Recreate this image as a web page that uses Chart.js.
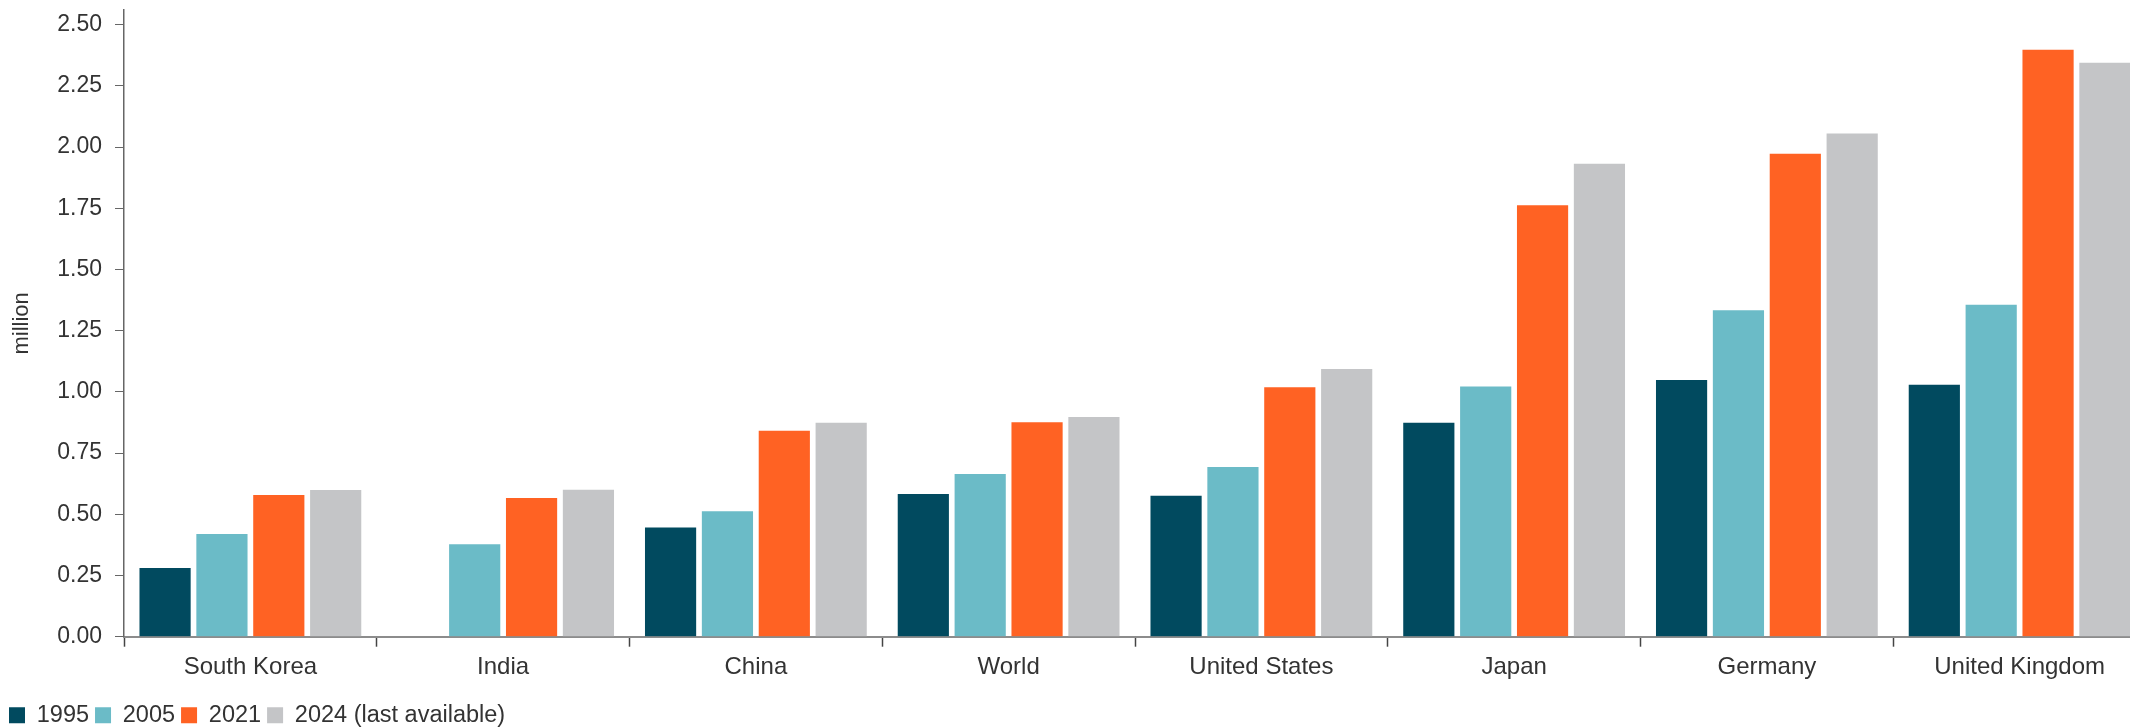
<!DOCTYPE html>
<html>
<head>
<meta charset="utf-8">
<script src="https://cdn.jsdelivr.net/npm/chart.js@4"></script>
<style>
  html, body { margin: 0; padding: 0; overflow: hidden; background: #fff; }
  #wrap { position: relative; width: 2146px; height: 727px; }
</style>
</head>
<body>
<div id="wrap"><canvas id="chart"></canvas></div>
<script>
// data (million)
const countries = ['South Korea', 'India', 'China', 'World', 'United States', 'Japan', 'Germany', 'United Kingdom'];
const yearLabels = ['1995', '2005', '2021', '2024 (last available)'];
const v1995 = [0.281, null, 0.446, 0.583, 0.576, 0.874, 1.049, 1.029];
const v2005 = [0.420, 0.378, 0.512, 0.665, 0.693, 1.022, 1.334, 1.356];
const v2021 = [0.579, 0.567, 0.841, 0.876, 1.019, 1.762, 1.973, 2.398];
const v2024 = [0.599, 0.600, 0.874, 0.897, 1.094, 1.932, 2.056, 2.345];
const yTicks = [0, 0.25, 0.5, 0.75, 1, 1.25, 1.5, 1.75, 2, 2.25, 2.5];

const colors = ['#014a5f', '#6bbbc7', '#ff6223', '#c4c5c7'];
const textColor = '#333333';
const fontFamily = '"Liberation Sans", Arial, sans-serif';

const ctx = document.getElementById('chart').getContext('2d');

new Chart(ctx, {
    type: 'bar',
    data: {
        labels: countries,
        datasets: [v1995, v2005, v2021, v2024].map((vals, i) => ({
            label: yearLabels[i],
            data: vals,
            backgroundColor: colors[i],
            borderWidth: 0,
            categoryPercentage: 0.9,
            barPercentage: 0.9
        }))
    },
    options: {
        responsive: true,
        maintainAspectRatio: false,
        animation: false,
        // negative bottom padding pushes the legend down to the canvas edge
        layout: { padding: { top: 10, left: 3, right: 0, bottom: -10 } },
        scales: {
            x: {
                afterFit: (scale) => { scale.height += 10; },
                grid: {
                    display: true,
                    drawOnChartArea: false,
                    drawTicks: true,
                    tickLength: 10,
                    tickColor: '#444',
                    tickWidth: 1.5
                },
                border: { display: true, color: '#8c8c8c', width: 2 },
                ticks: {
                    color: textColor,
                    font: { family: fontFamily, size: 24 },
                    padding: 6,
                    maxRotation: 0,
                    autoSkip: false
                }
            },
            y: {
                min: 0,
                max: 2.56,
                afterBuildTicks: (scale) => { scale.ticks = yTicks.map(v => ({ value: v })); },
                afterFit: (scale) => {
                    scale.width = 121;
                    // the 2.50 label sits below the top, no extra room needed
                    scale.paddingTop = 0;
                    scale.paddingBottom = 0;
                },
                grid: {
                    display: true,
                    drawOnChartArea: false,
                    drawTicks: true,
                    tickLength: 9,
                    tickColor: '#666'
                },
                border: { display: true, color: '#666', width: 1.5 },
                ticks: {
                    color: textColor,
                    font: { family: fontFamily, size: 23 },
                    padding: 13,
                    callback: (v) => Number(v).toFixed(2)
                },
                title: {
                    display: true,
                    text: 'million',
                    color: textColor,
                    font: { family: fontFamily, size: 22 },
                    padding: { top: 6, bottom: 0 }
                }
            }
        },
        plugins: {
            legend: {
                display: true,
                position: 'bottom',
                align: 'start',
                labels: {
                    color: textColor,
                    font: { family: fontFamily, size: 23.5 },
                    boxWidth: 16,
                    boxHeight: 16,
                    padding: 6
                }
            },
            tooltip: { enabled: false }
        }
    }
});
</script>
</body>
</html>
